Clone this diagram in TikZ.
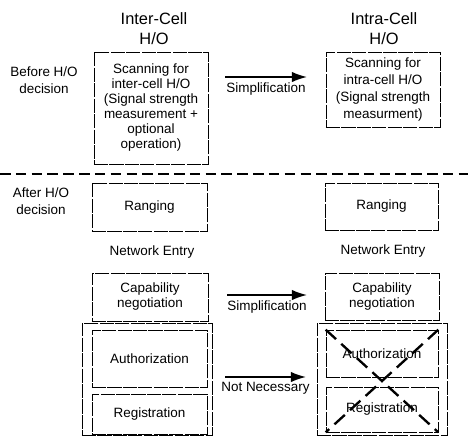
\documentclass[tikz,border=0pt]{standalone}
\usepackage{fontspec}
\setmainfont{Liberation Sans}
\usepackage{tikz}
\usetikzlibrary{arrows.meta, positioning}
\tikzset{x=0.03cm, y=-0.03cm, % one unit = one pixel of the sheet
    box/.style={ % thin frame of a step
    draw, line width=0.6pt,
    dash pattern=on 12pt off 1.2pt,
    inner sep=0pt, align=center,
    font=\fontsize{11.5}{12.8}\selectfont},
    title/.style={align=center, font=\fontsize{14}{17}\selectfont},
    side/.style={align=center, font=\fontsize{11.5}{14}\selectfont},
    plain/.style={font=\fontsize{11.5}{14}\selectfont},
    bigarrow/.style={ % arrow between the two columns
    -{Latex[length=13pt,width=9pt]},
    line width=1.4pt},
    sepline/.style={line width=2.4pt, dash pattern=on 9pt off 4.5pt},
    xcross/.style={line width=2pt, dash pattern=on 12pt off 6pt}}

\begin{document}
\begin{tikzpicture}
    \useasboundingbox (0,0) rectangle (468,436);

    % Column titles
    \node[title] (titleL) at (154,29) {Inter-Cell\\H/O};
    \node[title] (titleR) at (384,29) {Intra-Cell\\H/O};

    % Before the decision
    \node[side] (before) at (44,80) {Before H/O\\decision};
    \node[box, minimum width=3.42cm, minimum height=3.36cm] (scanL) at (151,108)
        {Scanning for\\inter-cell H/O\\(Signal strength\\measurement +\\optional\\operation)};
    \node[box, minimum width=3.42cm, minimum height=2.25cm,
        font=\fontsize{11.5}{14.6}\selectfont] (scanR) at (383,89.5)
        {Scanning for\\intra-cell H/O\\(Signal strength\\measurment)};
    \coordinate (s1a) at (225,77);
    \coordinate (s1b) at (307,77);
    \draw[bigarrow] (s1a) -- node[plain, below=1pt] {Simplification} (s1b);

    \draw[sepline] (0,174) -- (468,174);

    % After the decision
    \node[side] (after) at (41,201) {After H/O\\decision};
    \node[box, minimum width=3.45cm, minimum height=1.44cm] (rangL) at (149.5,207) {Ranging};
    \node[box, minimum width=3.39cm, minimum height=1.41cm] (rangR) at (381.5,206.5) {Ranging};
    \node[plain] (netL) at (152,252) {Network Entry};
    \node[plain] (netR) at (383,251) {Network Entry};
    \node[box, minimum width=3.48cm, minimum height=1.44cm] (capL) at (150,297)
        {Capability\\negotiation};
    \node[box, minimum width=3.42cm, minimum height=1.41cm] (capR) at (382,296.5)
        {Capability\\negotiation};
    \coordinate (s2a) at (227,295);
    \coordinate (s2b) at (307,295);
    \draw[bigarrow] (s2a) -- node[plain, below=1pt] {Simplification} (s2b);

    % Authorization and registration
    \node[box, minimum width=3.9cm, minimum height=3.36cm] (groupL) at (147,379) {};
    \node[box, minimum width=3.45cm, minimum height=1.71cm] (authL) at (149.5,358.5) {Authorization};
    \node[box, minimum width=3.45cm, minimum height=1.2cm] (regL) at (149.5,414) {Registration};
    \node[box, minimum width=3.9cm, minimum height=3.36cm] (groupR) at (382,379) {};
    \node[box, minimum width=3.36cm, minimum height=1.41cm] (authR) at (382,353.5) {Authorization};
    \node[box, minimum width=3.36cm, minimum height=1.35cm] (regR) at (382,409.5) {Registration};
    \coordinate (s3a) at (225,377);
    \coordinate (s3b) at (306,377);
    \draw[bigarrow] (s3a) -- node[plain, below=0pt] {Not Necessary} (s3b);

    \draw[xcross] (authR.north west) -- (regR.south east);
    \draw[xcross] (authR.north east) -- (regR.south west);
\end{tikzpicture}
\end{document}
